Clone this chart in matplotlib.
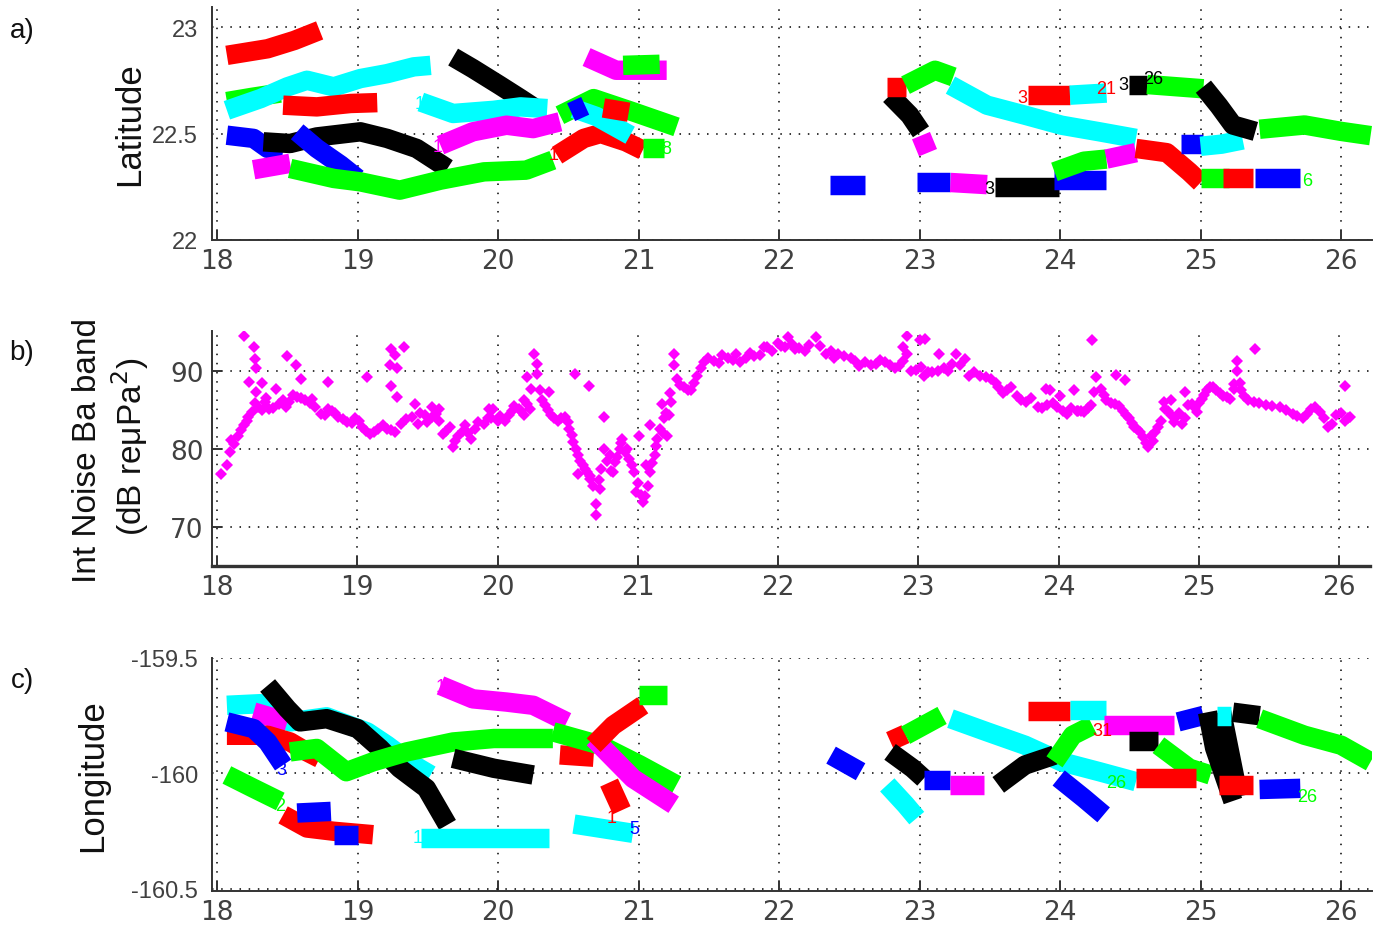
import matplotlib
matplotlib.use("Agg")
import matplotlib.pyplot as plt

# ---- data -------------------------------------------------------------
# panel a) latitude tracks: (colour, day, latitude)
lat_tracks = [
    ("#ff0000", [18.07, 18.36, 18.55, 18.73], [22.867, 22.898, 22.937, 22.984]),
    ("#00ff00", [18.07, 18.25, 18.45], [22.65, 22.67, 22.69]),
    ("#00ffff", [18.07, 18.31, 18.50, 18.64, 18.83, 19.02, 19.21, 19.40, 19.52],
     [22.609, 22.664, 22.719, 22.750, 22.719, 22.758, 22.781, 22.813, 22.820]),
    ("#ff0000", [18.47, 18.71, 18.95, 19.14], [22.633, 22.625, 22.641, 22.645]),
    ("#000000", [19.68, 19.82, 20.01, 20.16, 20.25], [22.859, 22.805, 22.727, 22.664, 22.625]),
    ("#00ffff", [19.45, 19.68, 19.97, 20.16, 20.35], [22.648, 22.594, 22.609, 22.625, 22.617]),
    ("#0000ff", [18.07, 18.26, 18.36, 18.47], [22.492, 22.477, 22.430, 22.422]),
    ("#000000", [18.33, 18.52, 18.71, 19.02, 19.21, 19.42, 19.64],
     [22.461, 22.453, 22.484, 22.508, 22.477, 22.430, 22.336]),
    ("#0000ff", [18.57, 18.71, 18.88, 19.00], [22.508, 22.430, 22.352, 22.289]),
    ("#ff00ff", [18.26, 18.52], [22.33, 22.36]),
    ("#00ff00", [18.52, 18.83, 19.02, 19.30, 19.59, 19.90, 20.20, 20.39],
     [22.336, 22.289, 22.273, 22.234, 22.281, 22.320, 22.328, 22.375]),
    ("#ff00ff", [19.59, 19.82, 20.06, 20.25, 20.44], [22.445, 22.508, 22.539, 22.523, 22.555]),
    ("#ff0000", [20.42, 20.61, 20.73, 20.91, 21.03], [22.398, 22.477, 22.500, 22.461, 22.422]),
    ("#00ff00", [21.03, 21.18], [22.43, 22.43]),
    ("#00ff00", [20.44, 20.68, 20.96, 21.27], [22.586, 22.664, 22.602, 22.531]),
    ("#00ffff", [20.54, 20.70, 20.94], [22.617, 22.58, 22.492]),
    ("#0000ff", [20.52, 20.62], [22.60, 22.63]),
    ("#ff0000", [20.75, 20.93], [22.62, 22.60]),
    ("#ff00ff", [20.63, 20.84, 21.20], [22.859, 22.797, 22.797]),
    ("#00ff00", [20.89, 21.15], [22.82, 22.825]),
    ("#0000ff", [22.36, 22.61], [22.258, 22.258]),
    ("#000000", [22.79, 22.93, 23.01], [22.680, 22.586, 22.508]),
    ("#ff00ff", [23.01, 23.06], [22.49, 22.41]),
    ("#ff0000", [22.77, 22.90], [22.72, 22.72]),
    ("#00ff00", [22.90, 23.11, 23.24], [22.727, 22.797, 22.766]),
    ("#00ffff", [23.22, 23.48, 23.75, 24.01, 24.28, 24.54],
     [22.727, 22.633, 22.586, 22.539, 22.508, 22.477]),
    ("#ff0000", [23.77, 24.07], [22.68, 22.68]),
    ("#00ffff", [24.07, 24.33], [22.68, 22.69]),
    ("#0000ff", [22.98, 23.22], [22.27, 22.27]),
    ("#ff00ff", [23.22, 23.48], [22.27, 22.26]),
    ("#000000", [23.54, 23.99], [22.25, 22.25]),
    ("#0000ff", [23.96, 24.33], [22.28, 22.28]),
    ("#00ff00", [23.96, 24.17, 24.33], [22.32, 22.37, 22.38]),
    ("#ff00ff", [24.33, 24.54], [22.38, 22.41]),
    ("#ff0000", [24.54, 24.76, 24.92, 25.0], [22.43, 22.41, 22.32, 22.27]),
    ("#0000ff", [24.86, 25.02], [22.45, 22.45]),
    ("#00ffff", [25.0, 25.15, 25.3], [22.44, 22.45, 22.47]),
    ("#00ff00", [25.0, 25.2], [22.29, 22.29]),
    ("#ff0000", [25.16, 25.37], [22.29, 22.29]),
    ("#0000ff", [25.39, 25.71], [22.29, 22.29]),
    ("#000000", [24.49, 24.62], [22.73, 22.73]),
    ("#00ff00", [24.62, 25.02], [22.73, 22.71]),
    ("#000000", [25.02, 25.13, 25.23, 25.39], [22.72, 22.63, 22.54, 22.51]),
    ("#00ff00", [25.42, 25.74, 26.0, 26.21], [22.52, 22.54, 22.51, 22.49]),
]
# track id labels printed by the tracker: (day, latitude, text, colour)
lat_labels = [
    (19.44, 22.64, "1", "#00ffff"),
    (19.57, 22.44, "1", "#ff00ff"),
    (20.43, 22.40, "18", "#ff0000"),
    (21.20, 22.43, "8", "#00ff00"),
    (23.73, 22.67, "3", "#ff0000"),
    (24.33, 22.71, "21", "#ff0000"),
    (24.45, 22.73, "3", "#000000"),
    (24.66, 22.76, "26", "#000000"),
    (23.50, 22.24, "3", "#000000"),
    (25.76, 22.28, "6", "#00ff00"),
]

# panel b) integrated noise (day, dB)
noise_day = [
    18.03, 18.07, 18.09, 18.10, 18.15, 18.19, 18.22, 18.25, 18.29, 18.37, 18.44, 18.51,
    18.57, 18.63, 18.70, 18.74, 18.82, 18.86, 18.93, 18.98, 19.03, 19.09, 19.15, 19.21,
    19.24, 19.31, 19.39, 19.43, 19.48, 19.53, 19.58, 19.61, 19.66, 19.68, 19.72, 19.77,
    19.81, 19.86, 19.93, 19.97, 20.00,
    18.19, 18.26, 18.27, 18.28, 18.23, 18.32, 18.28, 18.35, 18.42, 18.50, 18.56, 18.60,
    18.79, 19.07, 19.23, 19.24, 19.27, 19.33, 19.28, 19.24, 19.28, 19.41, 19.53, 19.58, 19.94,
    20.05, 20.10, 20.15, 20.19, 20.23, 20.24, 20.26, 20.28, 20.28, 20.30, 20.34, 20.38,
    20.43, 20.48, 20.51, 20.54, 20.57, 20.61, 20.64, 20.68, 20.70, 20.70, 20.73, 20.74,
    20.76, 20.80, 20.82, 20.84, 20.87, 20.89, 20.92, 20.94, 20.97, 20.99, 21.02, 21.04,
    21.07, 21.09, 21.12, 21.14, 21.16, 21.19, 21.23, 21.26, 21.26, 21.28, 21.33, 21.38,
    21.42, 21.47, 21.54, 21.64, 21.73, 21.83, 21.92, 22.02, 22.07,
    20.55, 20.65, 20.76, 21.01, 21.06, 21.09, 20.37, 20.21, 20.19, 20.57, 20.66, 20.81,
    21.17, 21.22, 21.21,
    22.05, 22.12, 22.19, 22.27, 22.34, 22.43, 22.52, 22.62, 22.66, 22.76, 22.83, 22.89,
    22.95, 23.02, 23.07, 23.14, 23.21, 23.27, 23.30, 23.36, 23.44, 23.52, 23.57, 23.63,
    23.70, 23.77, 23.85, 23.92, 23.99, 24.06, 24.13,
    22.92, 22.89, 22.92, 23.01, 23.05, 23.15, 23.91, 23.94, 24.01, 24.11,
    24.14, 24.18, 24.23, 24.25, 24.27, 24.30, 24.34, 24.40, 24.46, 24.50, 24.54, 24.58,
    24.62, 24.66, 24.69, 24.73, 24.76, 24.80, 24.84, 24.88, 24.92, 24.95, 24.99, 25.02,
    25.06, 25.10, 25.15, 25.20, 25.25, 25.27, 25.27, 25.29, 25.32, 25.39, 25.48, 25.58,
    25.67, 25.74, 25.80, 25.86, 25.92, 25.98, 26.04, 26.08,
    24.24, 24.41, 24.47, 24.90, 24.80, 24.75, 25.40, 25.25, 26.04,
    # second pass through the dense band
    21.45, 21.50, 21.58, 21.60, 21.68, 21.70, 21.77, 21.80, 21.87, 21.90, 21.96, 22.00,
    22.10, 22.15, 22.22, 22.30, 22.38, 22.40, 22.47, 22.55, 22.58, 22.70, 22.73, 22.80,
    22.86, 22.98, 23.04, 23.10, 23.18, 23.24, 23.33, 23.40, 23.48, 23.55, 23.60, 23.66,
    23.73, 23.80, 23.88, 23.96, 24.03, 24.09,
    18.12, 18.17, 18.21, 18.27, 18.32, 18.34, 18.40, 18.47, 18.49, 18.54, 18.60, 18.66,
    18.68, 18.77, 18.79, 18.84, 18.90, 18.96, 19.01, 19.06, 19.12, 19.18, 19.27, 19.35,
    19.45, 19.50, 19.56, 19.63, 19.70, 19.75, 19.79, 19.84, 19.90, 19.95,
    20.02, 20.08, 20.12, 20.17, 20.21, 20.32, 20.36, 20.40, 20.45, 20.50, 20.53, 20.56,
    20.59, 20.62, 20.66, 20.72, 20.78, 20.85, 20.88, 20.91, 20.96, 21.00, 21.05, 21.10,
    21.13, 21.18, 21.20, 21.24, 21.30, 21.36, 21.40,
    24.16, 24.21, 24.32, 24.37, 24.43, 24.48, 24.52, 24.56, 24.60, 24.64, 24.67, 24.71,
    24.78, 24.82, 24.86, 24.90, 24.97, 25.00, 25.04, 25.08, 25.12, 25.17, 25.22, 25.30,
    25.35, 25.43, 25.52, 25.62, 25.70, 25.77, 25.83, 25.89, 25.95, 26.01, 26.06,
]
noise_db = [
    76.8, 77.9, 79.6, 81.1, 81.7, 83.0, 84.1, 84.7, 85.4, 85.1, 85.8, 86.0,
    86.6, 86.2, 85.4, 84.5, 84.9, 84.1, 83.4, 83.9, 82.8, 81.9, 82.6, 82.6,
    82.4, 83.2, 84.1, 83.2, 84.3, 84.1, 83.6, 81.9, 82.8, 80.2, 81.7, 83.0,
    81.3, 83.4, 83.9, 85.1, 83.6,
    94.4, 93.0, 91.5, 90.3, 88.6, 88.5, 87.3, 86.5, 87.7, 91.9, 90.7, 89.0,
    88.6, 89.2, 90.7, 92.8, 92.0, 93.0, 90.3, 88.1, 86.6, 85.7, 85.4, 85.1, 85.1,
    83.6, 84.9, 85.1, 84.3, 85.1, 87.7, 92.2, 90.9, 89.6, 87.5, 85.6, 84.3,
    83.6, 84.1, 82.6, 80.9, 79.2, 77.9, 77.0, 75.3, 73.0, 71.5, 74.9, 77.4,
    80.0, 79.2, 77.0, 78.3, 80.0, 81.3, 80.0, 78.7, 77.0, 74.5, 74.1, 73.2,
    75.3, 77.0, 79.2, 81.3, 82.6, 83.9, 87.1, 90.7, 92.2, 89.0, 87.9, 87.5,
    89.4, 91.1, 91.3, 91.7, 91.1, 91.9, 93.0, 93.2, 94.3,
    89.6, 88.0, 84.1, 81.7, 77.9, 83.0, 87.3, 89.2, 86.2, 76.8, 76.2, 77.2,
    85.8, 84.3, 81.7,
    93.0, 92.8, 92.6, 94.3, 92.2, 92.2, 91.7, 91.1, 90.7, 91.1, 90.3, 91.3,
    90.0, 90.5, 89.8, 90.0, 90.0, 92.2, 90.7, 89.4, 89.4, 89.0, 87.9, 87.5,
    86.8, 86.0, 85.4, 85.6, 85.4, 84.5, 84.9,
    94.4, 93.0, 92.2, 93.9, 94.1, 92.2, 87.7, 87.5, 86.8, 87.5,
    84.9, 84.7, 85.6, 87.3, 89.2, 87.7, 86.2, 85.7, 84.9, 83.9, 82.8, 82.2,
    80.7, 81.6, 82.2, 83.6, 85.1, 84.3, 84.1, 83.2, 85.6, 85.8, 84.7, 86.4,
    87.5, 87.9, 87.1, 86.6, 87.7, 90.0, 91.3, 88.5, 86.8, 86.0, 85.6, 85.4,
    84.5, 83.9, 85.1, 84.7, 82.8, 84.3, 83.6, 84.1,
    93.9, 89.5, 88.8, 87.3, 86.2, 86.0, 92.8, 88.3, 88.0,
    90.3, 91.6, 91.0, 92.0, 91.4, 92.1, 91.6, 92.3, 92.0, 93.1, 92.6, 93.6,
    93.4, 92.9, 93.3, 93.2, 92.6, 91.6, 91.9, 91.2, 90.6, 90.9, 91.4, 90.7,
    90.6, 90.1, 89.4, 89.9, 90.4, 90.9, 91.5, 89.9, 89.2, 88.5, 87.2, 87.9,
    86.3, 86.5, 85.2, 85.9, 84.9, 85.3,
    80.6, 82.4, 83.6, 85.9, 85.0, 86.0, 85.3, 86.3, 85.4, 86.9, 86.5, 85.9,
    86.4, 84.3, 85.1, 84.6, 83.8, 83.3, 83.6, 82.3, 82.1, 83.1, 82.2, 83.8,
    84.6, 83.5, 84.5, 82.3, 81.0, 82.3, 82.0, 82.6, 83.2, 84.0,
    84.2, 84.3, 85.5, 84.8, 85.8, 86.3, 85.0, 84.0, 83.9, 83.4, 81.8, 80.0,
    78.4, 77.4, 76.5, 76.0, 78.5, 79.0, 80.7, 79.6, 77.9, 75.6, 74.0, 78.2,
    80.4, 82.0, 84.6, 86.0, 88.2, 87.5, 88.5,
    84.8, 85.3, 86.9, 85.9, 85.5, 84.4, 83.3, 82.5, 81.5, 80.2, 81.0, 82.8,
    84.8, 83.5, 84.6, 84.0, 85.2, 85.9, 86.9, 87.9, 87.5, 86.8, 86.4, 87.6,
    86.3, 85.9, 85.5, 85.0, 84.2, 84.5, 85.4, 83.9, 83.2, 84.6, 84.0,
]

# panel c) longitude tracks: (colour, day, longitude)
lon_tracks = [
    ("#00ffff", [18.07, 18.31, 18.52, 18.78, 19.07, 19.21, 19.40, 19.52],
     [-159.705, -159.698, -159.777, -159.755, -159.821, -159.878, -159.964, -160.007]),
    ("#ff00ff", [18.26, 18.50], [-159.734, -159.777]),
    ("#ff0000", [18.07, 18.36, 18.52, 18.64, 18.73], [-159.835, -159.835, -159.864, -159.907, -159.935]),
    ("#0000ff", [18.07, 18.26, 18.36, 18.47], [-159.777, -159.806, -159.864, -159.964]),
    ("#000000", [18.36, 18.50, 18.59, 18.78, 19.00, 19.16, 19.30, 19.49, 19.64],
     [-159.619, -159.720, -159.777, -159.763, -159.806, -159.892, -159.978, -160.065, -160.223]),
    ("#00ff00", [18.52, 18.71, 18.92, 19.11, 19.35, 19.68, 19.97, 20.25, 20.39],
     [-159.907, -159.892, -159.993, -159.950, -159.907, -159.864, -159.849, -159.849, -159.849]),
    ("#000000", [19.68, 19.97, 20.25], [-159.935, -159.978, -160.007]),
    ("#ff00ff", [19.59, 19.82, 20.06, 20.25, 20.49], [-159.619, -159.677, -159.691, -159.705, -159.777]),
    ("#00ff00", [18.07, 18.26, 18.45], [-160.007, -160.065, -160.122]),
    ("#ff0000", [18.47, 18.64, 18.83, 19.11], [-160.18, -160.237, -160.251, -160.266]),
    ("#0000ff", [18.57, 18.81], [-160.172, -160.165]),
    ("#0000ff", [18.83, 19.0], [-160.266, -160.266]),
    ("#00ffff", [19.45, 20.36], [-160.28, -160.28]),
    ("#ff0000", [20.44, 20.68], [-159.92, -159.93]),
    ("#00ff00", [20.39, 20.73, 21.01, 21.27], [-159.820, -159.878, -159.964, -160.050]),
    ("#ff00ff", [20.68, 20.96, 21.25], [-159.849, -160.022, -160.136]),
    ("#ff0000", [20.68, 20.82, 21.03], [-159.878, -159.792, -159.705]),
    ("#00ff00", [21.0, 21.2], [-159.66, -159.66]),
    ("#ff0000", [20.79, 20.88], [-160.04, -160.16]),
    ("#00ffff", [20.54, 20.96], [-160.22, -160.26]),
    ("#0000ff", [22.37, 22.58], [-159.921, -159.993]),
    ("#00ffff", [22.77, 22.90, 22.98], [-160.05, -160.136, -160.194]),
    ("#ff0000", [22.79, 22.90], [-159.86, -159.83]),
    ("#00ff00", [22.90, 23.16], [-159.835, -159.749]),
    ("#00ffff", [23.22, 23.48, 23.75, 24.01, 24.28, 24.54],
     [-159.763, -159.820, -159.878, -159.950, -159.993, -160.036]),
    ("#000000", [22.79, 22.95, 23.03], [-159.907, -159.978, -160.022]),
    ("#0000ff", [23.03, 23.22], [-160.03, -160.03]),
    ("#ff00ff", [23.22, 23.46], [-160.05, -160.05]),
    ("#000000", [23.56, 23.75, 23.96], [-160.05, -159.964, -159.921]),
    ("#00ff00", [23.96, 24.09, 24.23], [-159.95, -159.835, -159.792]),
    ("#0000ff", [23.99, 24.17, 24.31], [-160.02, -160.108, -160.18]),
    ("#ff0000", [23.77, 24.07], [-159.73, -159.73]),
    ("#00ffff", [24.07, 24.33], [-159.727, -159.727]),
    ("#ff00ff", [24.31, 24.81], [-159.79, -159.79]),
    ("#0000ff", [24.84, 25.02], [-159.777, -159.749]),
    ("#000000", [24.49, 24.70], [-159.86, -159.86]),
    ("#00ff00", [24.70, 24.92, 25.07], [-159.878, -159.978, -160.007]),
    ("#ff0000", [24.54, 24.97], [-160.02, -160.02]),
    ("#000000", [25.05, 25.10, 25.23], [-159.735, -159.89, -160.12]),
    ("#000000", [25.15, 25.27], [-159.735, -160.10]),
    ("#00ffff", [25.12, 25.22], [-159.75, -159.75]),
    ("#000000", [25.23, 25.42], [-159.735, -159.75]),
    ("#00ff00", [25.42, 25.74, 26.0, 26.21], [-159.763, -159.835, -159.878, -159.950]),
    ("#ff0000", [25.13, 25.37], [-160.05, -160.05]),
    ("#0000ff", [25.42, 25.71], [-160.07, -160.065]),
]
lon_labels = [
    (19.62, -159.625, "11", "#ff00ff"),
    (18.45, -160.14, "2", "#00ff00"),
    (18.46, -159.985, "3", "#0000ff"),
    (19.43, -160.28, "1", "#00ffff"),
    (20.81, -160.19, "1", "#ff0000"),
    (20.97, -160.24, "5", "#0000ff"),
    (24.30, -159.815, "31", "#ff0000"),
    (25.76, -160.10, "26", "#00ff00"),
    (24.40, -160.04, "26", "#00ff00"),
]

day_ticks = [18, 19, 20, 21, 22, 23, 24, 25, 26]

# ---- figure -----------------------------------------------------------
W, H = 1385, 928
fig = plt.figure(figsize=(W / 100, H / 100), dpi=100)


def px_axes(left, top, right, bottom):
    return fig.add_axes([left / W, 1 - bottom / H, (right - left) / W, (bottom - top) / H])


ax_a = px_axes(212, 8, 1372, 241)
ax_b = px_axes(212, 332, 1370, 567)
ax_c = px_axes(212, 659, 1372, 892)

tick_col = "#404040"
narrow = ["Liberation Sans Narrow", "DejaVu Sans"]
for ax in (ax_a, ax_b, ax_c):
    ax.set_xlim(17.964, 26.22)
    ax.set_xticks(day_ticks)
    ax.set_xticklabels([str(d) for d in day_ticks], family=narrow, fontsize=19, color=tick_col)
    for s in ("top", "right"):
        ax.spines[s].set_visible(False)
    for s in ("left", "bottom"):
        ax.spines[s].set_color("#333333")
        ax.spines[s].set_linewidth(1.4)
    ax.tick_params(direction="in", length=7, width=1.4, color="#333333", pad=6)
    ax.grid(True, color="black", linestyle=(0, (1, 5)), linewidth=1.1)
    ax.set_axisbelow(True)

ax_b.spines["bottom"].set_linewidth(2.4)

for c, xs, ys in lat_tracks:
    ax_a.plot(xs, ys, color=c, lw=14, solid_capstyle="butt", solid_joinstyle="round")
for x, y, t, c in lat_labels:
    ax_a.text(x, y, t, color=c, fontsize=13, ha="center", va="center", family="Liberation Sans")
ax_a.set_ylim(22.0, 23.094)
ax_a.set_yticks([22, 22.5, 23])
ax_a.set_yticklabels(["22", "22.5", "23"], family="Liberation Sans", fontsize=17, color=tick_col)

ax_b.plot(noise_day, noise_db, linestyle="none", marker="D", ms=6, mew=0, color="#ff00ff")
ax_b.set_ylim(65, 95.1)
ax_b.set_yticks([70, 80, 90])
ax_b.set_yticklabels(["70", "80", "90"], family=narrow, fontsize=19, color=tick_col)

for c, xs, ys in lon_tracks:
    ax_c.plot(xs, ys, color=c, lw=14, solid_capstyle="butt", solid_joinstyle="round")
for x, y, t, c in lon_labels:
    ax_c.text(x, y, t, color=c, fontsize=13, ha="center", va="center", family="Liberation Sans")
ax_c.set_ylim(-160.51, -159.5)
ax_c.set_yticks([-160.5, -160, -159.5])
ax_c.set_yticklabels(["-160.5", "-160", "-159.5"], family="Liberation Sans", fontsize=17, color=tick_col)

for ax in (ax_a, ax_c):
    ax.tick_params(axis="y", length=0, pad=10)

# panel letters and y labels
lab = dict(family="Liberation Sans", color="#111111")
fig.text(22 / W, 1 - 31 / H, "a)", fontsize=20, ha="center", va="center", **lab)
fig.text(22 / W, 1 - 353 / H, "b)", fontsize=20, ha="center", va="center", **lab)
fig.text(22 / W, 1 - 681 / H, "c)", fontsize=20, ha="center", va="center", **lab)
fig.text(130 / W, 1 - 124 / H, "Latitude", rotation=90, fontsize=25, ha="center", va="center", **lab)
fig.text(88 / W, 1 - 451 / H, "Int Noise Ba band", rotation=90, fontsize=24, ha="center", va="center", **lab)
fig.text(130 / W, 1 - 447 / H, "(dB re\u03bcPa$^2$)", rotation=90, fontsize=24, ha="center", va="center", **lab)
fig.text(93 / W, 1 - 776 / H, "Longitude", rotation=90, fontsize=25, ha="center", va="center", **lab)

fig.savefig("out.png", dpi=100)
